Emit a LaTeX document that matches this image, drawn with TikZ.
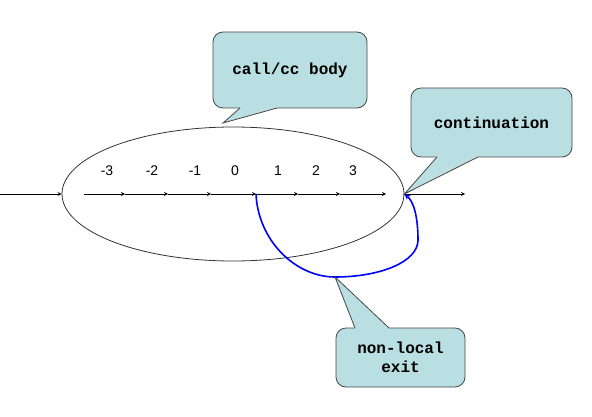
\documentclass[tikz,border=0pt]{standalone}
\usepackage{fontspec}
\setmainfont{Liberation Sans}
\newfontfamily\notefont{Liberation Mono}
\usetikzlibrary{arrows,calc,shapes.geometric}
\definecolor{notefill}{RGB}{185,223,227}
\definecolor{noteline}{RGB}{70,70,70}
\tikzset{
	note/.style={draw=noteline,fill=notefill,rounded corners=10pt,line width=0.8pt,font=\notefont\bfseries\fontsize{16}{20}\selectfont,align=center,inner sep=0pt},
	flow/.style={->,>=stealth,line width=0.8pt},
	jump/.style={->,>=stealth,draw=blue,line width=1.6pt},
	num/.style={font=\fontsize{14}{16}\selectfont}
}
\newcommand{\calltail}[4]{%
	\fill[notefill] ($(#1)+(#4)$) -- (#1) -- (#2) -- (#3) -- ($(#3)+(#4)$) -- cycle;
	\draw[noteline,line width=0.8pt] (#1) -- (#2) -- (#3);}
\begin{document}
\begin{tikzpicture}[x=1pt,y=-1pt]
	\useasboundingbox (0,0) rectangle (592,417);
	\node[ellipse,draw=black!80,line width=0.8pt,minimum width=342,minimum height=134,inner sep=0pt] (body) at (233,194) {};
	\coordinate (in) at (0,194);
	\coordinate (out) at (465,194);
	\draw[flow] (in) -- (body.west);
	\draw[flow] (body.east) -- (out);
	% steps inside the body
	\foreach \x [count=\i from 0] in {84,125,168,211,256,298,340,386}
		\coordinate (t\i) at (\x,194);
	\foreach \i [evaluate=\i as \j using int(\i+1)] in {0,...,6}
		\draw[flow] (t\i) -- (t\j);
	\foreach \x/\lab [count=\i] in {107/-3,152/-2,195/-1,235/0,278/1,316/2,353/3}
		\node[num] (n\i) at (\x,171) {\lab};
	% non-local exit
	\coordinate (low) at (335,277);
	\coordinate (side) at (418,240);
	\draw[jump] (t4) .. controls (258,240) and (295,277) .. (low)
		.. controls (380,277) and (418,262) .. (side)
		.. controls (418,215) and (413,201) .. (body.east);
	% callouts
	\node[note,minimum width=154,minimum height=76] (bodynote) at (290,70) {call/cc body};
	\node[note,minimum width=161,minimum height=69] (contnote) at (491.5,122.5) {continuation};
	\node[note,minimum width=129,minimum height=59] (exitnote) at (400.5,357.5) {non-local\\[-1pt]exit};
	\coordinate (b1) at (240,108);
	\coordinate (b2) at (277,108);
	\coordinate (p1) at (223,123);
	\coordinate (c1) at (437,157);
	\coordinate (c2) at (478,157);
	\coordinate (e1) at (355,328);
	\coordinate (e2) at (389,328);
	\calltail{b1}{p1}{b2}{0,-3}
	\calltail{c1}{body.east}{c2}{0,-3}
	\calltail{e1}{low}{e2}{0,3}
\end{tikzpicture}
\end{document}
